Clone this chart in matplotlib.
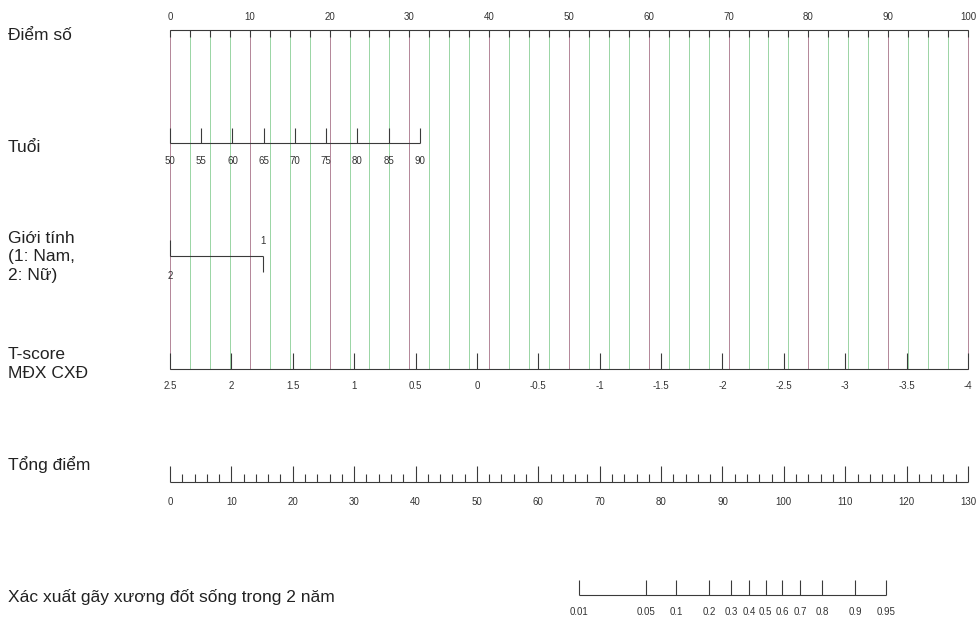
"""
Nomogram: xác suất gãy xương đốt sống trong 2 năm.
"""

import matplotlib.pyplot as plt
import numpy as np

plt.rcParams["font.family"] = ["Liberation Sans", "DejaVu Sans"]

# --- dữ liệu ---
points_ticks = [0, 10, 20, 30, 40, 50, 60, 70, 80, 90, 100]

age_ticks = [50, 55, 60, 65, 70, 75, 80, 85, 90]
age_max_points = 31.3          # điểm tại tuổi 90

sex_levels = ["2", "1"]
sex_points = [0, 11.6]

tscore_ticks = [2.5, 2, 1.5, 1, 0.5, 0, -0.5, -1, -1.5, -2, -2.5, -3, -3.5, -4]
tscore_labels = ["2.5", "2", "1.5", "1", "0.5", "0", "-0.5", "-1", "-1.5",
                 "-2", "-2.5", "-3", "-3.5", "-4"]

total_ticks = [0, 10, 20, 30, 40, 50, 60, 70, 80, 90, 100, 110, 120, 130]
total_max = 130

prob_ticks = [0.01, 0.05, 0.1, 0.2, 0.3, 0.4, 0.5, 0.6, 0.7, 0.8, 0.9, 0.95]
prob_labels = ["0.01", "0.05", "0.1", "0.2", "0.3", "0.4", "0.5", "0.6",
               "0.7", "0.8", "0.9", "0.95"]
prob_mid_total = 97.05         # tổng điểm tại xác suất 0.5
prob_slope = 6.63              # tổng điểm trên 1 đơn vị logit

row_labels = ["Điểm số", "Tuổi", "Giới tính\n(1: Nam,\n2: Nữ)",
              "T-score\nMĐX CXĐ", "Tổng điểm",
              "Xác xuất gãy xương đốt sống trong 2 năm"]

# --- bố cục (pixel) ---
W, H = 979, 620
X0_PX, X100_PX = 170, 968
Y_POINTS, Y_AGE, Y_SEX, Y_T, Y_TOTAL, Y_PROB = 30, 143, 256, 369, 482, 595
LABEL_Y = [35, 148, 257, 364, 465, 597]

MAUVE = "#b5899b"
GREEN = "#9cd6a6"
DARK = "#3a3a3a"
TICK_FS = 7
LABEL_FS = 12.5
LW = 0.8


def px(p):
    """pixel -> đơn vị điểm"""
    return (p - X0_PX) * 100 / (X100_PX - X0_PX)


def axis_row(ax, xs, labels, y, tick_len=15, label_dy=18, up=True):
    ax.hlines(y, min(xs), max(xs), color=DARK, lw=LW)
    y1 = y - tick_len if up else y + tick_len
    ax.vlines(xs, y, y1, color=DARK, lw=LW)
    for x, lab in zip(xs, labels):
        ax.text(x, y + label_dy, lab, ha="center", va="center",
                fontsize=TICK_FS, color="#333333")


fig = plt.figure(figsize=(W / 100, H / 100), dpi=100)
ax = fig.add_axes([0, 0, 1, 1])
ax.set_xlim(px(0), px(W))
ax.set_ylim(H, 0)
ax.axis("off")

# lưới dọc (đỏ tía mỗi 10 điểm, xanh lá mỗi 2.5 điểm)
grid_x = [i * 2.5 for i in range(41)]
grid_colors = [MAUVE if i % 4 == 0 else GREEN for i in range(41)]
ax.vlines(grid_x, Y_POINTS, Y_T, colors=grid_colors, lw=0.72,
          antialiased=False, zorder=1)

# Điểm số
ax.hlines(Y_POINTS, 0, 100, color=DARK, lw=LW)
ax.vlines(grid_x, Y_POINTS, Y_POINTS + 7, color=DARK, lw=LW)
for v in points_ticks:
    ax.text(v, Y_POINTS - 13, str(v), ha="center", va="center",
            fontsize=TICK_FS, color="#333333")

# Tuổi
age_x = [(a - age_ticks[0]) / (age_ticks[-1] - age_ticks[0]) * age_max_points
         for a in age_ticks]
axis_row(ax, age_x, [str(a) for a in age_ticks], Y_AGE)

# Giới tính
ax.hlines(Y_SEX, min(sex_points), max(sex_points), color=DARK, lw=LW)
ax.vlines(sex_points[0], Y_SEX, Y_SEX - 16, color=DARK, lw=LW)
ax.text(sex_points[0], Y_SEX + 20, sex_levels[0], ha="center", va="center",
        fontsize=TICK_FS, color="#333333")
ax.vlines(sex_points[1], Y_SEX, Y_SEX + 16, color=DARK, lw=LW)
ax.text(sex_points[1], Y_SEX - 15, sex_levels[1], ha="center", va="center",
        fontsize=TICK_FS, color="#333333")

# T-score
t_x = [(tscore_ticks[0] - t) / (tscore_ticks[0] - tscore_ticks[-1]) * 100
       for t in tscore_ticks]
axis_row(ax, t_x, tscore_labels, Y_T, tick_len=16, label_dy=17)

# Tổng điểm
total_x = [t * 100 / total_max for t in total_ticks]
axis_row(ax, total_x, [str(t) for t in total_ticks], Y_TOTAL,
         tick_len=16, label_dy=20)
minor_x = [t * 100 / total_max for t in np.arange(0, total_max + 1, 2)
           if t % 10 != 0]
ax.vlines(minor_x, Y_TOTAL, Y_TOTAL - 8, color=DARK, lw=LW)

# Xác suất
p = np.array(prob_ticks)
prob_total = prob_mid_total + prob_slope * np.log(p / (1 - p))
prob_x = list(prob_total * 100 / total_max)
axis_row(ax, prob_x, prob_labels, Y_PROB, tick_len=15, label_dy=17)

# nhãn hàng
for lab, y in zip(row_labels, LABEL_Y):
    ax.text(px(8), y, lab, ha="left", va="center", fontsize=LABEL_FS,
            color="#222222", linespacing=1.3)

fig.savefig("out.png", dpi=100)
